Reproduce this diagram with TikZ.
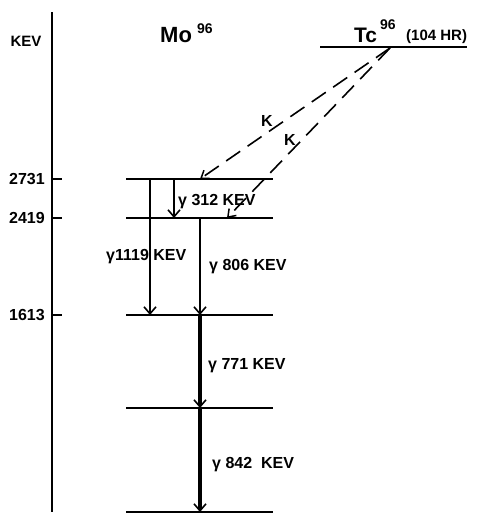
\documentclass[tikz,border=0pt]{standalone}
\usepackage{fontspec}
\setmainfont{Liberation Sans}
\usetikzlibrary{arrows.meta}
\begin{document}
\begin{tikzpicture}[x=1pt,y=-1pt,
  lvl/.style={line width=1.5pt},
  lbl/.style={font=\bfseries\fontsize{16}{16}\selectfont, inner sep=0pt},
  glbl/.style={font=\bfseries\fontsize{16}{16}\selectfont, inner sep=0pt, anchor=west},
  garrow/.style={-{Straight Barb[length=7pt,width=12pt,line width=1.6pt]}},
  karrow/.style={-{Straight Barb[length=7pt,width=10pt,line width=1.5pt]}, dash pattern=on 17pt off 9pt, line width=1.6pt}]
\useasboundingbox (0,0) rectangle (477,515);
% axis
\draw[line width=2pt] (52,12) -- (52,512);
\draw[line width=1.5pt] (52,179) -- (62,179);
\draw[line width=1.5pt] (52,218) -- (62,218);
\draw[line width=1.5pt] (52,315) -- (62,315);
\node[lbl, font=\bfseries\fontsize{15}{15}\selectfont] (kev) at (26,41) {KEV};
\node[lbl] (e1) at (27,179) {2731};
\node[lbl] (e2) at (27,218) {2419};
\node[lbl] (e3) at (27,315) {1613};
% titles
\node[font=\bfseries\fontsize{22}{22}\selectfont, inner sep=0pt, anchor=base west] (mo) at (160,42) {Mo};
\node[font=\bfseries\fontsize{14}{14}\selectfont, inner sep=0pt, anchor=base west] (mosup) at (197,33) {96};
\node[font=\bfseries\fontsize{21}{21}\selectfont, inner sep=0pt, anchor=base west] (tc) at (354,42) {Tc};
\node[font=\bfseries\fontsize{14}{14}\selectfont, inner sep=0pt, anchor=base west] (tcsup) at (380,29) {96};
\node[font=\bfseries\fontsize{15}{15}\selectfont, inner sep=0pt, anchor=base west] (tchl) at (406,40) {(104 HR)};
% levels
\draw[lvl] (320,47) -- (467,47);
\draw[lvl] (126,179) -- (273,179);
\draw[lvl] (126,218) -- (273,218);
\draw[lvl] (126,315) -- (273,315);
\draw[lvl] (126,408) -- (273,408);
\draw[lvl] (126,512) -- (273,512);
\coordinate (tcp) at (390,48);
\coordinate (a1) at (200,179);
\coordinate (a2) at (227,218);
\coordinate (g1t) at (150,179); \coordinate (g1b) at (150,315);
\coordinate (g2t) at (174,179); \coordinate (g2b) at (174,218);
\coordinate (g3t) at (200,218); \coordinate (g3b) at (200,315);
\coordinate (g4b) at (200,408);
\coordinate (g5b) at (200,512);
% K captures
\draw[karrow] (tcp) -- (a1);
\draw[karrow] (tcp) -- (a2);
\node[lbl] (k1) at (267,121) {K};
\node[lbl] (k2) at (290,140) {K};
% gammas
\draw[garrow, line width=1.8pt] (g1t) -- (g1b);
\draw[garrow, line width=1.5pt] (g2t) -- (g2b);
\draw[garrow, line width=2.8pt] (g3t) -- (g3b);
\draw[garrow, line width=4pt] (g3b) -- (g4b);
\draw[garrow, line width=4.6pt] (g4b) -- (g5b);
\node[glbl] (t312) at (178,202) {γ 312 KEV};
\node[glbl] (t1119) at (106,257) {γ1119 KEV};
\node[glbl] (t806) at (209,267) {γ 806 KEV};
\node[glbl] (t771) at (208,366) {γ 771 KEV};
\node[glbl] (t842) at (212,465) {γ 842 \ KEV};
\end{tikzpicture}
\end{document}
